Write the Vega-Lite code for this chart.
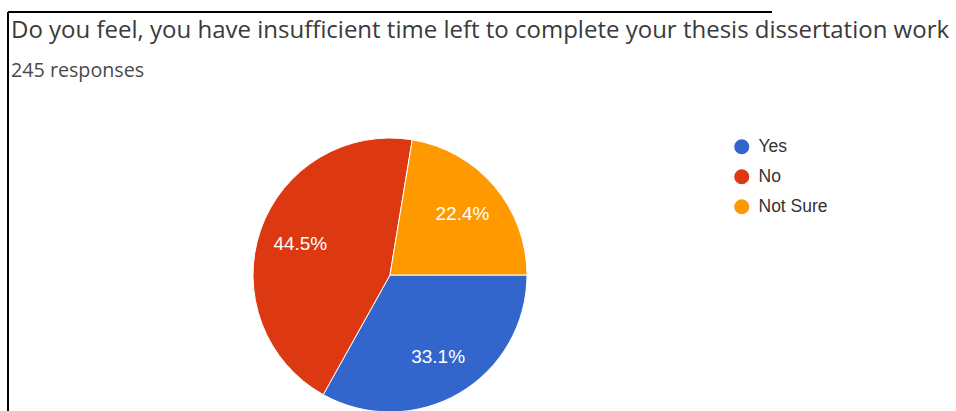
{
  "$schema": "https://vega.github.io/schema/vega-lite/v6.json",
  "width": 764,
  "height": 526,
  "autosize": {"type": "none"},
  "padding": {"left": 8, "top": 12, "right": 184, "bottom": -127},
  "background": "white",
  "view": {"stroke": "black", "strokeWidth": 2, "strokeDash": [764, 1290, 526, 0], "fill": "white"},
  "title": {
    "text": "Do you feel, you have insufficient time left to complete your thesis dissertation work",
    "subtitle": "245 responses",
    "anchor": "start",
    "frame": "group",
    "orient": "top",
    "offset": -69,
    "dx": 3,
    "font": "Open Sans",
    "fontSize": 24,
    "fontWeight": "normal",
    "color": "#3a3a3a",
    "subtitleFont": "Open Sans",
    "subtitleFontSize": 19.7,
    "subtitleColor": "#4a4a4a",
    "subtitlePadding": 18
  },
  "data": {
    "values": [
      {"answer": "Yes", "share": 0.331},
      {"answer": "No", "share": 0.445},
      {"answer": "Not Sure", "share": 0.224}
    ]
  },
  "encoding": {
    "theta": {"field": "share", "type": "quantitative", "stack": true, "scale": {"range": [3.6505, 9.9337]}},
    "order": {"field": "answer", "type": "nominal", "sort": "ascending"}
  },
  "layer": [
    {
      "mark": {"type": "arc", "outerRadius": 137, "stroke": "white", "strokeWidth": 1},
      "encoding": {
        "color": {
          "field": "answer",
          "type": "nominal",
          "sort": ["Yes", "No", "Not Sure"],
          "scale": {"domain": ["Yes", "No", "Not Sure"], "range": ["#3366cc", "#dc3912", "#ff9900"]},
          "legend": {
            "orient": "none",
            "legendX": 725,
            "legendY": 126,
            "title": null,
            "symbolType": "circle",
            "symbolSize": 227,
            "symbolStrokeWidth": 0,
            "labelFont": "Liberation Sans",
            "labelFontSize": 17.5,
            "labelColor": "#333333",
            "labelOffset": 8,
            "rowPadding": 11,
            "padding": 0
          }
        }
      }
    },
    {
      "mark": {"type": "text", "radius": 95, "font": "Liberation Sans", "fontSize": 19},
      "encoding": {
        "text": {"field": "share", "type": "quantitative", "format": ".1%"},
        "detail": {"field": "answer", "type": "nominal"},
        "color": {"value": "white"}
      }
    }
  ]
}
